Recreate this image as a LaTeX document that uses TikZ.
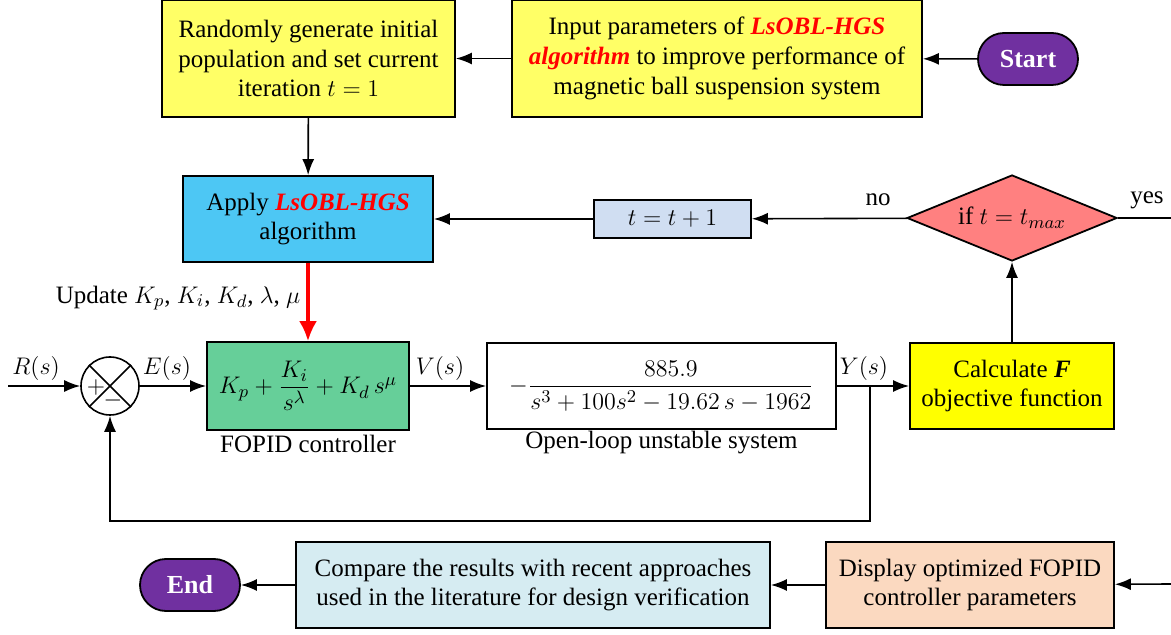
\documentclass[tikz,border=0pt]{standalone}
\usepackage{fontspec}
\setmainfont{Liberation Serif}
\usepackage{amsmath}
\usetikzlibrary{shapes.geometric,arrows.meta}

\definecolor{paleyellow}{RGB}{255,255,102}
\definecolor{brightyellow}{RGB}{255,255,0}
\definecolor{termpurple}{RGB}{112,48,160}
\definecolor{skyblue}{RGB}{77,199,244}
\definecolor{iterblue}{RGB}{208,222,242}
\definecolor{condred}{RGB}{255,128,128}
\definecolor{ctrlgreen}{RGB}{102,207,153}
\definecolor{cmpcyan}{RGB}{214,236,242}
\definecolor{peach}{RGB}{251,217,192}

\newcommand{\hgs}[1]{\textcolor{red}{\textbf{\textit{#1}}}}

\begin{document}
\begin{tikzpicture}[x=0.5pt,y=-0.5pt,line width=0.8pt,>={Latex[length=8pt,width=6pt]},
  font=\fontsize{12.5}{14.8}\selectfont]
  \tikzset{blk/.style={draw,line width=0.9pt,align=center,inner sep=2pt,minimum height=43pt},
    term/.style={draw,line width=0.9pt,fill=termpurple,text=white,font=\fontsize{13}{15}\selectfont\bfseries,
      rounded corners=13pt,minimum width=50pt,minimum height=26pt}};
  \useasboundingbox (0,0) rectangle (1171,635);

  % top row
  \node[term] (start) at (1028,59) {Start};
  \node[blk,fill=paleyellow,minimum width=205pt,minimum height=58.5pt] (input) at (717,58.5)
    {Input parameters of \hgs{LsOBL-HGS}\\ \hgs{algorithm} to improve performance of\\ magnetic ball suspension system};
  \node[blk,fill=paleyellow,minimum width=146.5pt,minimum height=58.5pt] (rand) at (308.5,58.5)
    {Randomly generate initial\\ population and set current\\ iteration $t=1$};

  % optimisation loop
  \node[blk,fill=skyblue,minimum width=125pt] (apply) at (308,219) {Apply \hgs{LsOBL-HGS}\\ algorithm};
  \node[blk,fill=iterblue,minimum width=78.5pt,minimum height=19pt] (incr) at (672.5,219) {$t=t+1$};
  \node[draw,line width=0.9pt,diamond,aspect=2.44,fill=condred,inner sep=0pt,minimum width=105pt,minimum height=43pt] (cond) at (1012,218)
    {if $t=t_{max}$};
  \coordinate (yesout) at (1171,218);
  \node (no) at (878,200) {no};
  \node (yes) at (1147,200) {yes};

  % control loop
  \coordinate (rin) at (8,386);
  \node[draw,circle,minimum size=29pt,inner sep=0pt] (sum) at (110,386) {};
  \draw (sum.45) -- (sum.225);
  \draw (sum.135) -- (sum.-45);
  \node[inner sep=0pt] (plus) at (96,388) {$+$};
  \node[inner sep=0pt] (minus) at (113,401) {$-$};
  \node[blk,fill=ctrlgreen,minimum width=101pt,minimum height=44pt] (fopid) at (308,386)
    {$K_p+\dfrac{K_i}{s^{\lambda}}+K_d\,s^{\mu}$};
  \node[blk,minimum width=174.5pt] (plant) at (661.5,386)
    {$-\dfrac{885.9}{s^3+100s^2-19.62\,s-1962}$};
  \node[blk,fill=brightyellow,minimum width=102pt] (calc) at (1012,386)
    {Calculate \textbf{\textit{F}}\\ objective function};
  \coordinate (branch) at (870,386);
  \coordinate (fbr) at (870,521);
  \coordinate (fbl) at (110,521);

  \node (rlab) at (36,369) {$R(s)$};
  \node (elab) at (167,369) {$E(s)$};
  \node (vlab) at (440,369) {$V(s)$};
  \node (ylab) at (864,369) {$Y(s)$};
  \node (upd) at (178,298) {Update $K_p$, $K_i$, $K_d$, $\lambda$, $\mu$};
  \node (ctrlname) at (308,444) {FOPID controller};
  \node (plantname) at (661.5,443) {Open-loop unstable system};

  % bottom row
  \coordinate (dispin) at (1171,584);
  \node[blk,fill=peach,minimum width=144pt] (disp) at (970,585) {Display optimized FOPID\\ controller parameters};
  \node[blk,fill=cmpcyan,minimum width=237pt] (comp) at (533,585)
    {Compare the results with recent approaches\\ used in the literature for design verification};
  \node[term] (finish) at (190,585) {End};

  % connectors
  \draw[->] (start) -- (input);
  \draw[->] (input) -- (rand);
  \draw[->] (rand) -- (apply);
  \draw[-{Latex[length=10pt,width=9pt]},red,line width=1.6pt] (apply) -- (fopid);
  \draw[->] (rin) -- (sum);
  \draw[->] (sum) -- (fopid);
  \draw[->] (fopid) -- (plant);
  \draw[->] (plant) -- (calc);
  \draw[->] (calc) -- (cond);
  \draw[->] (cond) -- (incr);
  \draw[->] (incr) -- (apply);
  \draw (cond.east) -- (yesout);
  \draw[->] (branch) -- (fbr) -- (fbl) -- (sum);
  \draw[->] (dispin) -- (disp);
  \draw[->] (disp) -- (comp);
  \draw[->] (comp) -- (finish);
\end{tikzpicture}
\end{document}
